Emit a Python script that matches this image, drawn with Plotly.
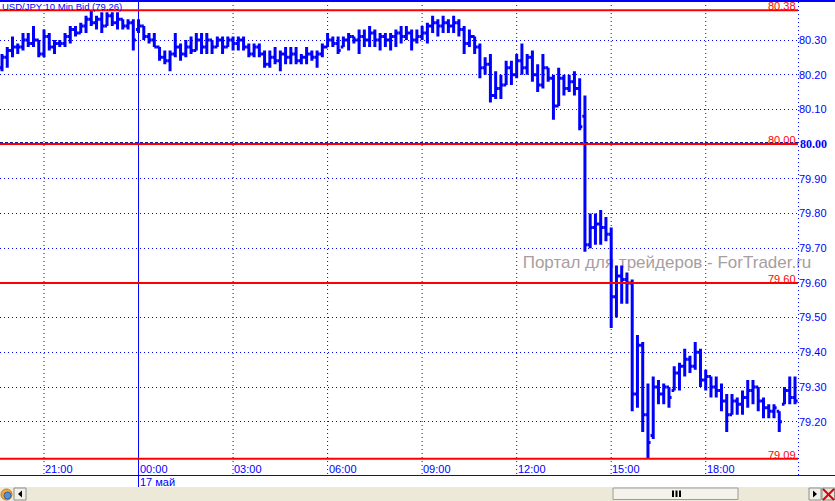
import plotly.graph_objects as go
import pandas as pd

# ---------------- data ----------------
title_text = "USD/JPY 10 Min Bid (79.26)"
start_time = "2012-05-16 19:40"
bar_freq = "10min"

opens = [
    80.22, 80.25, 80.27, 80.28, 80.28, 80.30, 80.29, 80.30, 80.26, 80.31,
    80.28, 80.29, 80.29, 80.31, 80.33, 80.32, 80.34, 80.36, 80.35, 80.36,
    80.34, 80.37, 80.35, 80.36, 80.34, 80.35, 80.33, 80.34, 80.31, 80.30,
    80.28, 80.25, 80.24, 80.26, 80.28, 80.26, 80.28, 80.27, 80.30, 80.28,
    80.30, 80.28, 80.30, 80.28, 80.30, 80.29, 80.30, 80.28, 80.26, 80.28,
    80.26, 80.23, 80.25, 80.24, 80.26, 80.25, 80.26, 80.24, 80.25, 80.26,
    80.25, 80.26, 80.28, 80.30, 80.29, 80.28, 80.30, 80.31, 80.30, 80.31,
    80.30, 80.32, 80.30, 80.31, 80.30, 80.31, 80.32, 80.31, 80.32, 80.30,
    80.31, 80.32, 80.34, 80.35, 80.34, 80.35, 80.34, 80.35, 80.33, 80.29,
    80.31, 80.28, 80.22, 80.23, 80.14, 80.16, 80.17, 80.22, 80.20, 80.24,
    80.22, 80.25, 80.20, 80.17, 80.22, 80.19, 80.11, 80.19, 80.16, 80.18,
    80.16, 80.08, 79.71, 79.76, 79.77, 79.76, 79.74, 79.56, 79.62, 79.61,
    79.60, 79.28, 79.42, 79.22, 79.16, 79.30, 79.28, 79.30, 79.29, 79.34,
    79.36, 79.38, 79.36, 79.40, 79.32, 79.33, 79.30, 79.29, 79.26, 79.22,
    79.26, 79.25, 79.27, 79.29, 79.30, 79.26, 79.24, 79.23, 79.23, 79.25,
    79.29, 79.27,
]
highs = [
    80.26, 80.28, 80.31, 80.29, 80.32, 80.32, 80.34, 80.30, 80.33, 80.32,
    80.30, 80.30, 80.32, 80.34, 80.34, 80.35, 80.37, 80.386, 80.37, 80.38,
    80.38, 80.38, 80.38, 80.36, 80.36, 80.36, 80.36, 80.34, 80.32, 80.32,
    80.28, 80.27, 80.27, 80.32, 80.29, 80.30, 80.31, 80.32, 80.32, 80.32,
    80.30, 80.31, 80.31, 80.31, 80.31, 80.31, 80.31, 80.29, 80.29, 80.29,
    80.27, 80.27, 80.28, 80.27, 80.28, 80.28, 80.28, 80.26, 80.28, 80.27,
    80.27, 80.29, 80.32, 80.31, 80.31, 80.31, 80.32, 80.31, 80.33, 80.33,
    80.34, 80.33, 80.32, 80.32, 80.32, 80.33, 80.34, 80.34, 80.33, 80.33,
    80.34, 80.35, 80.37, 80.36, 80.37, 80.36, 80.37, 80.36, 80.34, 80.33,
    80.31, 80.29, 80.25, 80.26, 80.21, 80.20, 80.24, 80.24, 80.26, 80.29,
    80.26, 80.27, 80.23, 80.26, 80.22, 80.20, 80.22, 80.20, 80.20, 80.21,
    80.19, 80.14, 79.80, 79.80, 79.81, 79.79, 79.76, 79.65, 79.65, 79.63,
    79.61, 79.45, 79.43, 79.31, 79.33, 79.32, 79.31, 79.30, 79.36, 79.37,
    79.41, 79.39, 79.43, 79.41, 79.35, 79.33, 79.33, 79.31, 79.28, 79.28,
    79.27, 79.29, 79.32, 79.32, 79.30, 79.27, 79.25, 79.25, 79.23, 79.30,
    79.33, 79.33,
]
lows = [
    80.21, 80.22, 80.25, 80.26, 80.27, 80.28, 80.28, 80.25, 80.25, 80.27,
    80.26, 80.28, 80.28, 80.29, 80.31, 80.32, 80.32, 80.34, 80.33, 80.32,
    80.34, 80.34, 80.33, 80.33, 80.33, 80.27, 80.32, 80.30, 80.29, 80.28,
    80.24, 80.23, 80.21, 80.25, 80.24, 80.25, 80.26, 80.27, 80.26, 80.26,
    80.26, 80.28, 80.26, 80.28, 80.27, 80.27, 80.27, 80.25, 80.25, 80.25,
    80.22, 80.22, 80.23, 80.21, 80.23, 80.23, 80.23, 80.23, 80.23, 80.24,
    80.22, 80.25, 80.28, 80.28, 80.26, 80.28, 80.27, 80.29, 80.26, 80.28,
    80.28, 80.28, 80.27, 80.28, 80.27, 80.28, 80.29, 80.30, 80.27, 80.29,
    80.30, 80.29, 80.32, 80.31, 80.32, 80.32, 80.32, 80.31, 80.26, 80.28,
    80.26, 80.19, 80.20, 80.12, 80.13, 80.13, 80.17, 80.17, 80.19, 80.20,
    80.20, 80.18, 80.15, 80.16, 80.18, 80.07, 80.11, 80.14, 80.15, 80.14,
    80.04, 79.69, 79.70, 79.71, 79.71, 79.72, 79.47, 79.50, 79.54, 79.54,
    79.23, 79.24, 79.17, 79.093, 79.15, 79.25, 79.25, 79.24, 79.29, 79.29,
    79.33, 79.34, 79.35, 79.30, 79.29, 79.27, 79.27, 79.23, 79.17, 79.22,
    79.22, 79.22, 79.24, 79.25, 79.23, 79.21, 79.21, 79.21, 79.17, 79.25,
    79.25, 79.25,
]
closes = [
    80.25, 80.27, 80.28, 80.28, 80.30, 80.29, 80.30, 80.26, 80.31, 80.28,
    80.29, 80.29, 80.31, 80.33, 80.32, 80.34, 80.36, 80.35, 80.36, 80.34,
    80.37, 80.35, 80.36, 80.34, 80.35, 80.30, 80.34, 80.31, 80.30, 80.28,
    80.25, 80.24, 80.26, 80.28, 80.26, 80.28, 80.27, 80.30, 80.28, 80.30,
    80.28, 80.30, 80.28, 80.30, 80.29, 80.30, 80.28, 80.26, 80.28, 80.26,
    80.23, 80.25, 80.24, 80.26, 80.25, 80.26, 80.24, 80.25, 80.26, 80.25,
    80.26, 80.28, 80.30, 80.29, 80.27, 80.30, 80.31, 80.30, 80.31, 80.30,
    80.32, 80.30, 80.31, 80.30, 80.31, 80.32, 80.31, 80.32, 80.30, 80.31,
    80.32, 80.34, 80.35, 80.34, 80.35, 80.34, 80.35, 80.33, 80.29, 80.31,
    80.28, 80.22, 80.23, 80.14, 80.16, 80.17, 80.22, 80.20, 80.24, 80.22,
    80.25, 80.20, 80.17, 80.22, 80.19, 80.11, 80.19, 80.16, 80.18, 80.16,
    80.05, 79.71, 79.76, 79.77, 79.76, 79.74, 79.56, 79.62, 79.61, 79.60,
    79.28, 79.42, 79.22, 79.14, 79.30, 79.28, 79.30, 79.27, 79.34, 79.36,
    79.38, 79.36, 79.40, 79.32, 79.33, 79.30, 79.29, 79.26, 79.22, 79.26,
    79.25, 79.27, 79.29, 79.30, 79.26, 79.24, 79.23, 79.24, 79.20, 79.29,
    79.27, 79.26,
]

price_ticks = [79.20, 79.30, 79.40, 79.50, 79.60, 79.70, 79.80, 79.90,
               80.10, 80.20, 80.30]
key_price = 80.00
level_values = [80.386, 80.00, 79.60, 79.093]
level_labels = ["80.38", "80.00", "79.60", "79.09"]
time_ticks = ["2012-05-16 21:00", "2012-05-17 00:00", "2012-05-17 03:00",
              "2012-05-17 06:00", "2012-05-17 09:00", "2012-05-17 12:00",
              "2012-05-17 15:00", "2012-05-17 18:00"]
time_labels = ["21:00", "00:00", "03:00", "06:00", "09:00", "12:00",
               "15:00", "18:00"]
day_break = "2012-05-17 00:00"
day_label = "17 май"
watermark = "Портал для трейдеров - ForTrader.ru"

# ---------------- layout geometry ----------------
W, H = 835, 501
PL, PR, PT, PB = 0, 798, 0, 460
PX_PER_UNIT = 347.0
BLUE = "#0000FF"
RED = "#FF0000"
FONT = "Liberation Sans, Arial, sans-serif"
DOT = "1px,3px"


def fx(px):
    return (px - PL) / (PR - PL)


def fy(py):
    return (PB - py) / (PB - PT)


times = pd.date_range(start_time, periods=len(opens), freq=bar_freq)
step = pd.Timedelta(bar_freq)
x_range = [times[0] - 0.38 * step, times[-1] + 0.57 * step]
y_top = 80.30 + 40 / PX_PER_UNIT
y_bottom = y_top - (PB - PT) / PX_PER_UNIT

fig = go.Figure()
fig.add_trace(go.Ohlc(
    x=times, open=opens, high=highs, low=lows, close=closes,
    increasing=dict(line=dict(color=BLUE, width=3)),
    decreasing=dict(line=dict(color=BLUE, width=3)),
    tickwidth=0.5, hoverinfo="skip", showlegend=False,
))

shapes = []
# scroll bar background
shapes.append(dict(type="rect", xref="paper", yref="paper",
                   x0=fx(0), x1=fx(W), y0=fy(H), y1=fy(487),
                   fillcolor="#ECE9D8", line=dict(width=0), layer="above"))
# separators
shapes.append(dict(type="line", xref="paper", yref="paper",
                   x0=fx(0), x1=fx(W), y0=fy(475.5), y1=fy(475.5),
                   line=dict(color=BLUE, width=1)))
shapes.append(dict(type="line", xref="paper", yref="paper",
                   x0=fx(0), x1=fx(W), y0=fy(1), y1=fy(1),
                   line=dict(color=BLUE, width=2)))
# right price axis dotted line
shapes.append(dict(type="line", xref="paper", yref="paper",
                   x0=fx(798.5), x1=fx(798.5), y0=fy(475), y1=fy(0),
                   line=dict(color=BLUE, width=1, dash=DOT)))
# vertical time gridlines
for t in time_ticks:
    if t == day_break:
        shapes.append(dict(type="line", xref="x", yref="paper",
                           x0=t, x1=t, y0=fy(487), y1=1,
                           line=dict(color=BLUE, width=1)))
    else:
        shapes.append(dict(type="line", xref="x", yref="paper",
                           x0=t, x1=t, y0=fy(474), y1=1,
                           line=dict(color=BLUE, width=1, dash=DOT)))
# red level lines
for v in level_values:
    shapes.append(dict(type="line", xref="paper", yref="y",
                       x0=0, x1=1, y0=v, y1=v,
                       line=dict(color=RED, width=2)))
# dashed key price line
kp = key_price + 1.5 / PX_PER_UNIT
shapes.append(dict(type="line", xref="paper", yref="y",
                   x0=0, x1=1, y0=kp, y1=kp,
                   line=dict(color="#00008B", width=1, dash="3px,2px")))
# watermark under the bars
shapes.append(dict(type="rect", xref="paper", yref="paper",
                   x0=fx(512), x1=fx(822), y0=fy(271), y1=fy(249),
                   line=dict(width=0), fillcolor="rgba(0,0,0,0)",
                   layer="below",
                   label=dict(text=watermark, textposition="middle center",
                              font=dict(family=FONT, size=17,
                                        color="#A89E9E"))))
# scroll bar thumb
shapes.append(dict(type="rect", xref="paper", yref="paper",
                   x0=fx(613), x1=fx(738), y0=fy(499.5), y1=fy(488),
                   fillcolor="#F3F2EC", line=dict(color="#9C9C94", width=1)))
for gx in (673, 676.5, 680):
    shapes.append(dict(type="line", xref="paper", yref="paper",
                       x0=fx(gx), x1=fx(gx), y0=fy(497), y1=fy(490.5),
                       line=dict(color="#000000", width=2)))
# left icon
shapes.append(dict(type="circle", xref="paper", yref="paper",
                   x0=fx(1), x1=fx(12), y0=fy(500), y1=fy(489),
                   fillcolor="#F2A93B", line=dict(color="#C07818", width=1)))
shapes.append(dict(type="circle", xref="paper", yref="paper",
                   x0=fx(4), x1=fx(11), y0=fy(499), y1=fy(492),
                   fillcolor="#5A8FD8", line=dict(color="#2E5FA8", width=1)))
# left / right buttons
for bx0, bx1 in ((14, 26), (809, 821)):
    shapes.append(dict(type="rect", xref="paper", yref="paper",
                       x0=fx(bx0), x1=fx(bx1), y0=fy(500), y1=fy(488),
                       fillcolor="#F1F0EA", line=dict(color="#8E8E86", width=1)))
shapes.append(dict(type="path", xref="paper", yref="paper",
                   path="M {} {} L {} {} L {} {} Z".format(
                       fx(18), fy(494), fx(22), fy(490.5), fx(22), fy(497.5)),
                   fillcolor="#000000", line=dict(width=0)))
shapes.append(dict(type="path", xref="paper", yref="paper",
                   path="M {} {} L {} {} L {} {} Z".format(
                       fx(817), fy(494), fx(813), fy(490.5), fx(813), fy(497.5)),
                   fillcolor="#000000", line=dict(width=0)))
# close cross
shapes.append(dict(type="rect", xref="paper", yref="paper",
                   x0=fx(822), x1=fx(834.5), y0=fy(500), y1=fy(488),
                   fillcolor="#E4E3DC", line=dict(color="#8E8E86", width=1)))
shapes.append(dict(type="line", xref="paper", yref="paper",
                   x0=fx(823), x1=fx(834), y0=fy(489), y1=fy(500),
                   line=dict(color="#E00000", width=2)))
shapes.append(dict(type="line", xref="paper", yref="paper",
                   x0=fx(823), x1=fx(834), y0=fy(500), y1=fy(489),
                   line=dict(color="#E00000", width=2)))

annotations = []
annotations.append(dict(text=title_text, xref="paper", yref="paper",
                        x=fx(1), y=fy(6.5), xanchor="left", yanchor="middle",
                        showarrow=False, borderpad=0,
                        font=dict(family=FONT, size=9.5, color=BLUE)))
for v, lab in zip(level_values, level_labels):
    annotations.append(dict(text=lab, xref="paper", yref="y", x=1, y=v,
                            xanchor="right", yanchor="bottom", xshift=-1,
                            yshift=-3, showarrow=False, borderpad=0,
                            font=dict(family=FONT, size=11, color=RED)))
annotations.append(dict(text="<b>%.2f</b>" % key_price, xref="paper",
                        yref="y", x=1, y=key_price, xanchor="left",
                        yanchor="middle", xshift=1, showarrow=False,
                        borderpad=0,
                        font=dict(family="Liberation Serif, Times New Roman, serif",
                                  size=12, color=BLUE)))
for t, lab in zip(time_ticks, time_labels):
    annotations.append(dict(text=lab, xref="x", yref="paper", x=t,
                            y=fy(468.5), xanchor="left", yanchor="middle",
                            xshift=0, showarrow=False, borderpad=0,
                            font=dict(family=FONT, size=11, color=BLUE)))
annotations.append(dict(text=day_label, xref="x", yref="paper", x=day_break,
                        y=fy(481.5), xanchor="left", yanchor="middle",
                        xshift=0, showarrow=False, borderpad=0,
                        font=dict(family=FONT, size=11, color=BLUE)))

fig.update_layout(
    width=W, height=H, autosize=False,
    margin=dict(l=PL, r=W - PR, t=PT, b=H - PB, pad=0),
    paper_bgcolor="white", plot_bgcolor="white",
    hovermode=False, showlegend=False,
    shapes=shapes, annotations=annotations,
    xaxis=dict(type="date", range=x_range, showgrid=False, zeroline=False,
               showticklabels=False, ticks="", showline=False,
               rangeslider=dict(visible=False), fixedrange=True),
    yaxis=dict(side="right", range=[y_bottom, y_top], tickvals=price_ticks,
               ticktext=["%.2f" % v for v in price_ticks],
               tickfont=dict(family=FONT, size=11, color=BLUE),
               showgrid=True, gridcolor=BLUE, gridwidth=1, griddash=DOT,
               zeroline=False, showline=False, ticks="", fixedrange=True),
)

fig.write_html(
    "out.html",
    config={"displayModeBar": False, "staticPlot": True},
    post_script="document.body.style.margin='0';"
                "document.body.style.overflow='hidden';",
)
